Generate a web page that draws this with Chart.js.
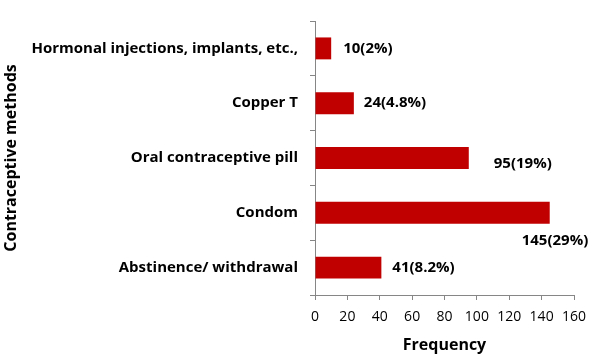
<!DOCTYPE html>
<html><head><meta charset="utf-8">
<script src="https://cdn.jsdelivr.net/npm/chart.js@4/dist/chart.umd.min.js"></script>
<style>html,body{margin:0;padding:0;background:#fff}#wrap{width:600px;height:362px}</style>
</head><body><div id="wrap"><canvas id="c" width="600" height="362"></canvas></div>
<script>
const categories = ["Hormonal injections, implants, etc.,", "Copper T", "Oral contraceptive pill", "Condom", "Abstinence/ withdrawal"];
const frequency = [10, 24, 95, 145, 41];
const percentLabels = ["10(2%)", "24(4.8%)", "95(19%)", "145(29%)", "41(8.2%)"];
const xTicks = [0, 20, 40, 60, 80, 100, 120, 140, 160];
// label placement offsets (pixels) relative to bar end: [dx, dy]
const labelOffsets = [[12, 0], [10, 0], [25, 6], [-28, 28], [11, 0]];

const FONT = "'Open Sans', sans-serif";

const dataLabelPlugin = {
  id: 'dataLabels',
  afterDatasetsDraw(chart) {
    const ctx = chart.ctx;
    const meta = chart.getDatasetMeta(0);
    ctx.save();
    ctx.font = "bold 15px " + FONT;
    ctx.fillStyle = "#000";
    ctx.textBaseline = "middle";
    ctx.textAlign = "left";
    meta.data.forEach((bar, i) => {
      const off = labelOffsets[i];
      ctx.fillText(percentLabels[i], bar.x + off[0], bar.y + off[1]);
    });
    ctx.restore();
  }
};

new Chart(document.getElementById('c'), {
  type: 'bar',
  data: {
    labels: categories,
    datasets: [{
      data: frequency,
      backgroundColor: '#C00000',
      borderWidth: 0,
      barPercentage: 0.4,
      categoryPercentage: 1.0
    }]
  },
  plugins: [dataLabelPlugin],
  options: {
    indexAxis: 'y',
    responsive: false,
    animation: false,
    devicePixelRatio: 1,
    layout: { padding: { top: 18, right: 26, left: 0, bottom: 0 } },
    plugins: { legend: { display: false }, tooltip: { enabled: false } },
    scales: {
      x: {
        min: 0, max: 160,
        afterBuildTicks(scale) { scale.ticks = xTicks.map(v => ({ value: v })); },
        afterFit(scale) { scale.height = 67; },
        grid: { drawOnChartArea: false, tickLength: 5, color: '#868686' },
        border: { color: '#868686', width: 1 },
        ticks: { color: '#000', font: { family: FONT, size: 14 }, padding: 9, maxRotation: 0 },
        title: { display: true, text: 'Frequency', color: '#000', font: { family: FONT, size: 16, weight: 'bold' }, padding: { top: 0, bottom: 7 } }
      },
      y: {
        afterFit(scale) { scale.width = 315; },
        grid: { drawOnChartArea: false, tickLength: 5, color: '#868686', offset: true },
        border: { color: '#868686', width: 1 },
        ticks: { color: '#000', font: { family: FONT, size: 15, weight: 'bold' }, padding: 12 },
        title: { display: true, text: 'Contraceptive methods', color: '#000', font: { family: FONT, size: 16, weight: 'bold' }, padding: { top: 2, bottom: 0 } }
      }
    }
  }
});
</script></body></html>
